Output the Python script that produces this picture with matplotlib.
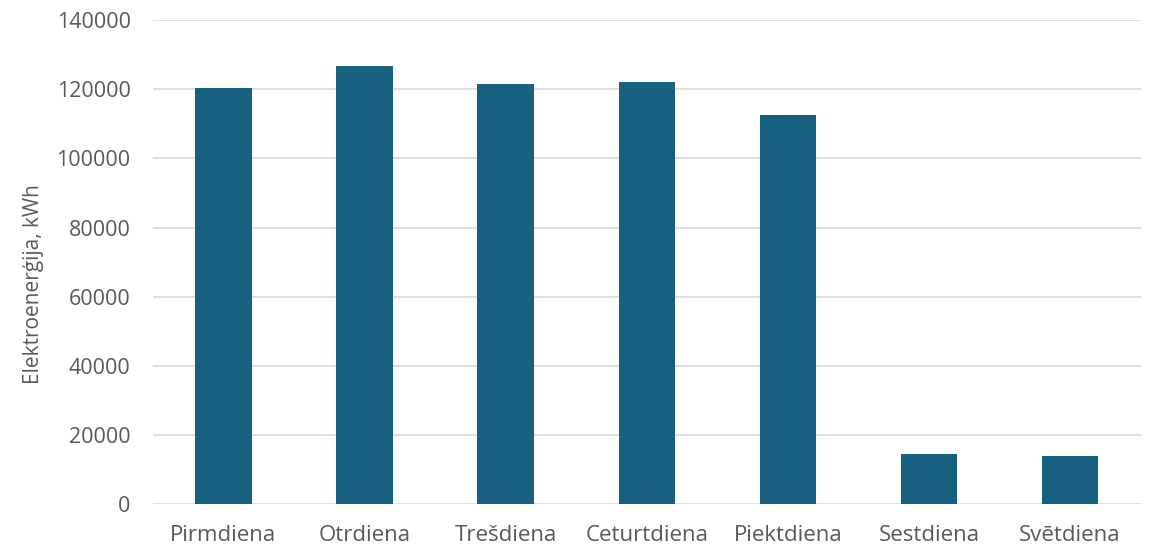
import matplotlib
matplotlib.use("Agg")
import matplotlib.pyplot as plt

days = ["Pirmdiena", "Otrdiena", "Trešdiena", "Ceturtdiena", "Piektdiena", "Sestdiena", "Svētdiena"]
energy = [120500, 126700, 121600, 122000, 112600, 14500, 13850]
yticks = [0, 20000, 40000, 60000, 80000, 100000, 120000, 140000]

plt.rcParams['font.family'] = ['Open Sans', 'DejaVu Sans']
txt = '#595959'

fig = plt.figure(figsize=(11.58, 5.46), dpi=100)
ax = fig.add_axes([0.132, 0.077, 0.853, 0.886])
x = range(len(days))
ax.bar(x, energy, width=0.40, color='#17607F', zorder=3)
ax.set_xlim(-0.5, len(days) - 0.5)
ax.set_ylim(0, 140000)
ax.set_yticks(yticks)
ax.set_yticklabels([str(v) for v in yticks])
ax.set_xticks(list(x))
ax.set_xticklabels(days)
ax.grid(axis='y', color='#d9d9d9', linewidth=1.2, zorder=0)
for s in ax.spines.values():
    s.set_visible(False)
ax.tick_params(axis='x', length=0, labelsize=16, colors=txt, pad=15)
ax.tick_params(axis='y', length=0, labelsize=15.5, colors=txt, pad=16)
ax.set_ylabel("Elektroenerģija, kWh", fontsize=15, color=txt)
ax.yaxis.set_label_coords(-0.11, 0.455)
fig.savefig("out.png", dpi=100)
